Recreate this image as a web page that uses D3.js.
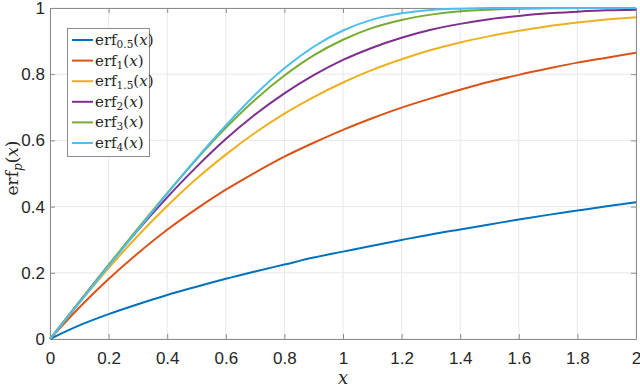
<!DOCTYPE html>
<html>
<head>
<meta charset="utf-8">
<script src="https://cdn.jsdelivr.net/npm/d3@7"></script>
<style>
  body { margin: 0; background: #fff; }
  .tick text { font-family: "Liberation Sans", Arial, sans-serif; font-size: 17px; fill: #262626; }
</style>
</head>
<body>
<div id="chart"></div>
<script>
var xs = [0, 0.1, 0.2, 0.3, 0.4, 0.5, 0.6, 0.7, 0.8, 0.9, 1.0, 1.1, 1.2, 1.3, 1.4, 1.5, 1.6, 1.7, 1.8, 1.9, 2.0];
var erf05 = [0, 0.041, 0.075, 0.105, 0.133, 0.158, 0.182, 0.204, 0.225, 0.246, 0.264, 0.282, 0.299, 0.316, 0.331, 0.346, 0.361, 0.375, 0.388, 0.401, 0.413];
var erf1 = [0, 0.095, 0.181, 0.259, 0.330, 0.393, 0.451, 0.503, 0.551, 0.593, 0.632, 0.667, 0.699, 0.727, 0.753, 0.777, 0.798, 0.817, 0.835, 0.850, 0.865];
var erf15 = [0, 0.109, 0.214, 0.312, 0.402, 0.484, 0.557, 0.623, 0.681, 0.731, 0.775, 0.813, 0.845, 0.873, 0.896, 0.915, 0.931, 0.945, 0.956, 0.965, 0.972];
var erf2 = [0, 0.112, 0.223, 0.329, 0.428, 0.520, 0.604, 0.678, 0.742, 0.797, 0.843, 0.880, 0.910, 0.934, 0.952, 0.966, 0.976, 0.984, 0.989, 0.993, 0.995];
var erf3 = [0, 0.112, 0.224, 0.334, 0.441, 0.543, 0.638, 0.723, 0.796, 0.857, 0.904, 0.940, 0.964, 0.980, 0.990, 0.995, 0.998, 0.999, 1.0, 1.0, 1.0];
var erf4 = [0, 0.110, 0.221, 0.330, 0.439, 0.545, 0.645, 0.738, 0.818, 0.883, 0.932, 0.965, 0.984, 0.994, 0.998, 1.0, 1.0, 1.0, 1.0, 1.0, 1.0];
var subs = ["0.5", "1", "1.5", "2", "3", "4"];
var xTicks = [0, 0.2, 0.4, 0.6, 0.8, 1, 1.2, 1.4, 1.6, 1.8, 2];
var yTicks = [0, 0.2, 0.4, 0.6, 0.8, 1];

var w = 640;
var h = 388;
var margin = { top: 8, right: 4, bottom: 49, left: 50 };
var serif = "'DejaVu Serif', 'Liberation Serif', serif";

var svg = d3.select("#chart")
    .append("svg")
    .attr("width", w)
    .attr("height", h);

var x = d3.scaleLinear().domain([0, 2]).range([margin.left, w - margin.right]);
var y = d3.scaleLinear().domain([0, 1]).range([h - margin.bottom, margin.top]);

var color = ["#0072BD", "#D95319", "#EDB120", "#7E2F8E", "#77AC30", "#4DBEEE"];

// grid
svg.append("g")
    .selectAll("line.gx")
    .data(xTicks)
    .enter()
    .append("line")
    .attr("x1", function(d) { return x(d); })
    .attr("x2", function(d) { return x(d); })
    .attr("y1", y(0))
    .attr("y2", y(1))
    .attr("stroke", "#e8e8e8");
svg.append("g")
    .selectAll("line.gy")
    .data(yTicks)
    .enter()
    .append("line")
    .attr("x1", x(0))
    .attr("x2", x(2))
    .attr("y1", function(d) { return y(d); })
    .attr("y2", function(d) { return y(d); })
    .attr("stroke", "#e8e8e8");

// axes (ticks pointing inward, like matlab)
var fmt = function(d) { return d3.format("")(+d.toFixed(1)); };
var xAxis = svg.append("g")
    .attr("transform", "translate(0," + y(0) + ")")
    .call(d3.axisBottom(x).tickValues(xTicks).tickFormat(fmt).tickSizeInner(-5).tickSizeOuter(0).tickPadding(13));
var yAxis = svg.append("g")
    .attr("transform", "translate(" + x(0) + ",0)")
    .call(d3.axisLeft(y).tickValues(yTicks).tickFormat(fmt).tickSizeInner(-5).tickSizeOuter(0).tickPadding(5));
var xTop = svg.append("g")
    .attr("transform", "translate(0," + y(1) + ")")
    .call(d3.axisTop(x).tickValues(xTicks).tickFormat("").tickSizeInner(-5).tickSizeOuter(0));
var yRight = svg.append("g")
    .attr("transform", "translate(" + x(2) + ",0)")
    .call(d3.axisRight(y).tickValues(yTicks).tickFormat("").tickSizeInner(-5).tickSizeOuter(0));
[xAxis, yAxis, xTop, yRight].forEach(function(a) {
    a.selectAll("path, line").attr("stroke", "#8c8c8c");
});

// curves
var series = [erf05, erf1, erf15, erf2, erf3, erf4];
var line = d3.line()
    .x(function(d, i) { return x(xs[i]); })
    .y(function(d) { return y(d); })
    .curve(d3.curveMonotoneX);

svg.append("g")
    .selectAll("path")
    .data(series)
    .enter()
    .append("path")
    .attr("d", line)
    .attr("fill", "none")
    .attr("stroke", function(d, i) { return color[i]; })
    .attr("stroke-width", 2);

// axis labels
svg.append("text")
    .attr("x", x(1))
    .attr("y", 384)
    .attr("text-anchor", "middle")
    .attr("font-family", serif)
    .attr("font-style", "italic")
    .attr("font-size", 18)
    .attr("fill", "#262626")
    .text("x");

var yl = svg.append("text")
    .attr("transform", "translate(18,168) rotate(-90)")
    .attr("text-anchor", "middle")
    .attr("font-family", serif)
    .attr("font-size", 17)
    .attr("fill", "#262626");
yl.append("tspan").text("erf");
yl.append("tspan").attr("font-style", "italic").attr("font-size", 12).attr("dy", 4).text("p");
yl.append("tspan").attr("dy", -4).text("(");
yl.append("tspan").attr("font-style", "italic").text("x");
yl.append("tspan").text(")");

// legend
var lg = svg.append("g");
lg.append("rect")
    .attr("x", 67.5)
    .attr("y", 28.5)
    .attr("width", 82)
    .attr("height", 128)
    .attr("fill", "#fff")
    .attr("stroke", "#8c8c8c");

var items = lg.selectAll("g.item")
    .data(subs)
    .enter()
    .append("g")
    .attr("transform", function(d, i) { return "translate(0," + (40 + i * 20.6) + ")"; });
items.append("line")
    .attr("x1", 72)
    .attr("x2", 93)
    .attr("stroke", function(d, i) { return color[i]; })
    .attr("stroke-width", 2);
var lt = items.append("text")
    .attr("x", 95)
    .attr("y", 5)
    .attr("font-family", serif)
    .attr("font-size", 15)
    .attr("fill", "#262626");
lt.append("tspan").text("erf");
lt.append("tspan").attr("font-size", 10.5).attr("dy", 3).text(function(d) { return d; });
lt.append("tspan").attr("dy", -3).text("(");
lt.append("tspan").attr("font-style", "italic").text("x");
lt.append("tspan").text(")");
</script>
</body>
</html>
